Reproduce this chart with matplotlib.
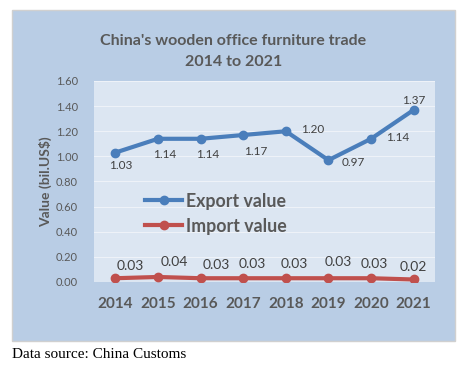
import matplotlib.pyplot as plt
from matplotlib.patches import Rectangle

# chart data
years = ["2014", "2015", "2016", "2017", "2018", "2019", "2020", "2021"]
export_value = [1.03, 1.14, 1.14, 1.17, 1.20, 0.97, 1.14, 1.37]
import_value = [0.03, 0.04, 0.03, 0.03, 0.03, 0.03, 0.03, 0.02]
y_ticks = [0.0, 0.2, 0.4, 0.6, 0.8, 1.0, 1.2, 1.4, 1.6]

# label offsets (points), Excel put them all over the place
export_offsets = [(4, -9), (5, -11), (5, -11), (9, -12), (19, 1), (18, -1.5), (19, 1), (0, 7)]
import_offsets = [(11, 9), (11.5, 11), (11.5, 9.5), (6.5, 10), (6, 10), (7, 12), (2, 10), (0, 9)]

plt.rcParams['font.family'] = ['Lato', 'DejaVu Sans']
gray = '#595959'
blue = '#4A7EBB'
red = '#C0504D'

W, H = 467, 366
fig = plt.figure(figsize=(W / 100, H / 100), dpi=100, facecolor='white')

# outer chart area
bg = Rectangle((12 / W, 1 - 341 / H), 443 / W, 331 / H,
               transform=fig.transFigure, facecolor='#B9CDE5',
               edgecolor='#D0D0D0', linewidth=1.0, zorder=-10)
fig.add_artist(bg)

ax = fig.add_axes([94 / W, 1 - 282 / H, 341 / W, 201 / H])
ax.set_facecolor('#DCE6F2')
for s in ax.spines.values():
    s.set_visible(False)

x = list(range(len(years)))
ax.plot(x, export_value, color=blue, lw=3, marker='o', ms=6, label='Export value', zorder=3)
ax.plot(x, import_value, color=red, lw=3, marker='o', ms=6, label='Import value', zorder=3)

for i, v in enumerate(export_value):
    dx, dy = export_offsets[i]
    ax.annotate(f"{v:.2f}", (i, v), xytext=(dx, dy), textcoords='offset points',
                ha='center', va='center', fontsize=8.5, color='#404040')
for i, v in enumerate(import_value):
    dx, dy = import_offsets[i]
    ax.annotate(f"{v:.2f}", (i, v), xytext=(dx, dy), textcoords='offset points',
                ha='center', va='center', fontsize=10, color='#404040')

ax.set_xlim(-0.5, len(years) - 0.5)
ax.set_ylim(0, 1.6)
ax.set_yticks(y_ticks)
ax.set_yticklabels([f"{t:.2f}" for t in y_ticks], fontsize=8, color=gray)
ax.set_xticks(x)
ax.set_xticklabels(years, fontsize=11, fontweight='bold', color=gray)
ax.tick_params(axis='both', length=0)
ax.tick_params(axis='x', pad=11)
ax.tick_params(axis='y', pad=11.5)
ax.grid(axis='y', color='#EEF2F8', lw=0.8)
ax.set_axisbelow(True)

ax.set_ylabel("Value (bil.US$)", fontsize=10, fontweight='bold', color=gray, labelpad=3)

leg = ax.legend(loc='upper left', bbox_to_anchor=(0.15, 0.445), frameon=False,
                fontsize=12.8, handlelength=2.1, handletextpad=0.17, labelspacing=0.45,
                borderaxespad=0, borderpad=0)
for t in leg.get_texts():
    t.set_color(gray)
    t.set_fontweight('bold')

fig.text(0.5, 1 - 41 / H, "China's wooden office furniture trade", ha='center', va='center',
         fontsize=11.5, fontweight='bold', color=gray)
fig.text(0.5, 1 - 62 / H, "2014 to 2021", ha='center', va='center',
         fontsize=11.5, fontweight='bold', color=gray)

fig.text(12 / W, 1 - 354 / H, "Data source: China Customs", ha='left', va='center',
         fontsize=11, family='Liberation Serif', color='black')

fig.savefig('out.png', dpi=100)
